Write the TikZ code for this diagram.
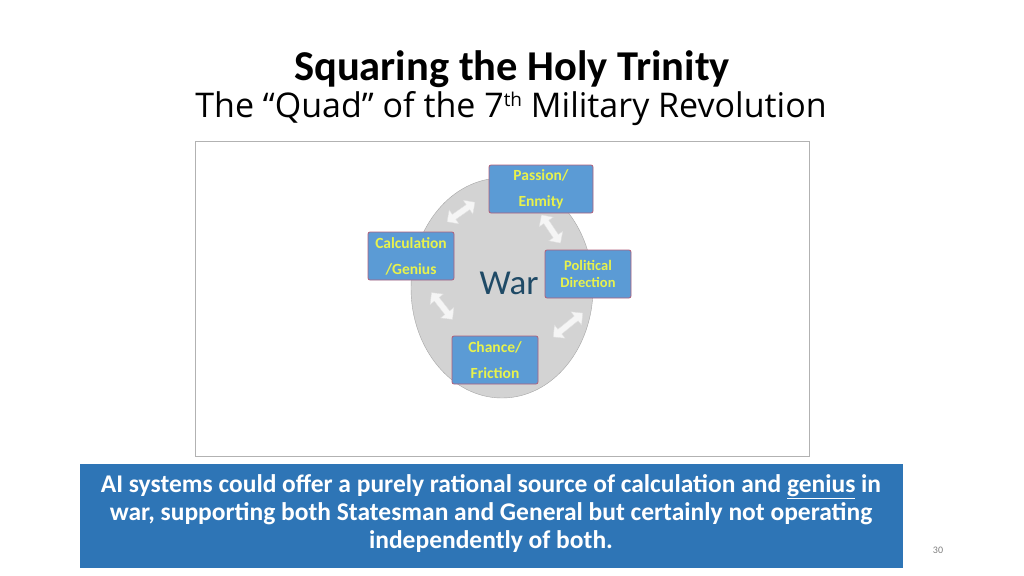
\documentclass[tikz,border=0pt]{standalone}
\usepackage{fontspec}
\setmainfont{Carlito}
\newfontfamily\subfont{Open Sans}
\usetikzlibrary{shapes.arrows}
\definecolor{boxblue}{HTML}{5B9BD5}
\definecolor{boxedge}{HTML}{B05F7A}
\definecolor{boxtext}{HTML}{E8F24C}
\definecolor{wargray}{HTML}{D3D3D3}
\definecolor{wartext}{HTML}{1F4A66}
\definecolor{notefill}{HTML}{2E75B6}
\tikzset{%
  trinity/.style={draw=boxedge, fill=boxblue, rounded corners=2pt, line width=0.8pt,
    minimum width=86pt, minimum height=48pt, align=center, text=boxtext,
    font=\bfseries\fontsize{15.5}{26}\selectfont},
  linkarrow/.style={shape=double arrow, fill=gray!8, draw=gray!25, line width=0.4pt,
    minimum height=34pt, minimum width=17pt, double arrow head extend=3pt, inner sep=1.5pt}
}
\begin{document}
\begin{tikzpicture}[x=1pt, y=-1pt]
  \useasboundingbox[fill=white] (0,0) rectangle (1024,575);

  % headings
  \node (title) at (512,69) {\bfseries\fontsize{42.5}{48}\selectfont Squaring the Holy Trinity};
  \node (subtitle) at (511,109) {\subfont\fontsize{34}{40}\selectfont The “Quad” of the
    7\raisebox{11pt}{\fontsize{19}{20}\selectfont th} Military Revolution};

  % picture frame and the war disc
  \draw[gray!60, line width=0.6pt] (195,141) rectangle (809,456);
  \draw[fill=wargray, draw=gray!70] (502,288) ellipse [x radius=91, y radius=110];
  \node[text=wartext, font=\fontsize{35}{38}\selectfont] (war) at (509,283) {War};

  % the four corners of the quad
  \node[trinity] (passion) at (541,189) [minimum width=104pt] {Passion/\\Enmity};
  \node[trinity] (calc) at (411,256) {Calculation\\/Genius};
  \node[trinity, font=\bfseries\fontsize{14.5}{17.5}\selectfont] (politic) at (588,274) {Political\\Direction};
  \node[trinity] (chance) at (495,360) {Chance/\\Friction};

  % two-way links between them
  \node[linkarrow, rotate=35] (calcpass) at (461,212) {};
  \node[linkarrow, rotate=-56] (passpol) at (551,229) {};
  \node[linkarrow, rotate=39, minimum height=38pt] (polchance) at (568,325) {};
  \node[linkarrow, rotate=-52] (chancecalc) at (442,306) {};

  % note at the bottom
  \fill[notefill] (80,464) rectangle (903,568);
  \node[text=white, align=center, font=\bfseries\fontsize{25.5}{28}\selectfont] (note) at (491,514)
    {AI systems could offer a purely rational source of calculation and \underline{genius} in\\
     war, supporting both Statesman and General but certainly not operating\\
     independently of both.};
  \node[text=gray, font=\fontsize{10}{12}\selectfont] (page) at (938,550) {30};
\end{tikzpicture}
\end{document}
